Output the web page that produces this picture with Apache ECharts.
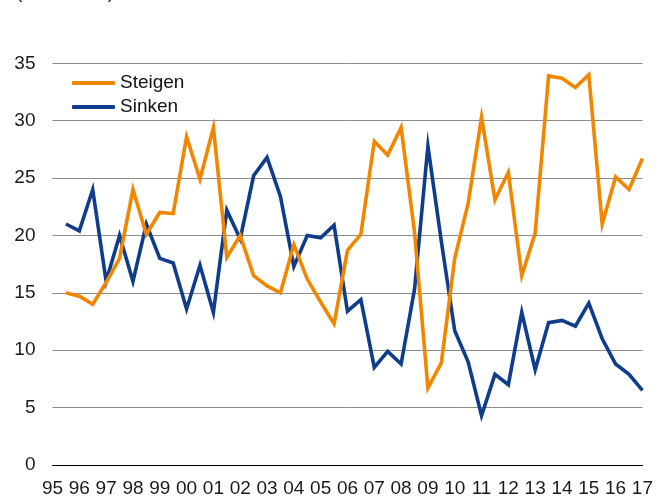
<!DOCTYPE html>
<html>
<head>
<meta charset="utf-8">
<script src="https://cdn.jsdelivr.net/npm/echarts@6/dist/echarts.min.js"></script>
<style>
html,body{margin:0;padding:0;background:#fff;}
#c{width:656px;height:499px;}
</style>
</head>
<body>
<div id="c"></div>
<script>
var yearLabels = ['95','96','97','98','99','00','01','02','03','04','05','06','07','08','09','10','11','12','13','14','15','16','17'];
var steigen = [15.0,14.7,14.0,15.9,18.0,24.0,20.1,22.0,21.9,28.6,24.9,29.4,18.1,20.0,16.5,15.6,15.0,19.2,16.2,14.2,12.3,18.7,20.1,28.2,27.0,29.4,20.3,6.7,8.9,18.0,22.8,30.3,23.1,25.5,16.5,20.2,33.9,33.7,32.9,34.0,21.0,25.1,24.0,26.7];
var sinken = [21.0,20.4,24.0,16.0,20.0,16.0,21.0,18.0,17.6,13.6,17.4,13.3,22.2,19.7,25.2,26.8,23.4,17.3,20.0,19.8,20.9,13.4,14.4,8.5,9.9,8.8,15.3,27.8,19.5,11.7,9.0,4.3,7.9,7.0,13.3,8.3,12.4,12.6,12.1,14.1,11.0,8.8,7.9,6.5];

function pairs(arr){ return arr.map(function(v,i){ return [i+1, v]; }); }

var chart = echarts.init(document.getElementById('c'), null, {renderer:'canvas'});
var font = '"Liberation Sans", Arial, sans-serif';
chart.setOption({
  animation:false,
  backgroundColor:'#ffffff',
  title:{
    text:'(in Prozent)',
    left:11, top:-22,
    textStyle:{fontFamily:font, fontSize:19, fontWeight:'normal', color:'#1a1a1a'}
  },
  grid:{left:52.5, right:13, top:63.3, bottom:34, containLabel:false},
  legend:{
    orient:'vertical',
    left:67, top:67,
    itemWidth:43, itemHeight:4,
    itemGap:2,
    icon:'roundRect',
    textStyle:{fontFamily:font, fontSize:19, color:'#111', lineHeight:22},
    data:['Steigen','Sinken']
  },
  xAxis:{
    type:'value', min:0, max:44, interval:2,
    axisLine:{show:true, lineStyle:{color:'#000', width:1.2}},
    axisTick:{show:false},
    splitLine:{show:false},
    axisLabel:{
      fontFamily:font, fontSize:19, color:'#1a1a1a', margin:14,
      showMinLabel:true, showMaxLabel:true,
      formatter:function(v){ return yearLabels[Math.round(v/2)]; }
    }
  },
  yAxis:{
    type:'value', min:0, max:35, interval:5,
    axisLine:{show:false},
    axisTick:{show:false},
    splitLine:{show:true, lineStyle:{color:'#8c8c8c', width:1}},
    axisLabel:{fontFamily:font, fontSize:19, color:'#1a1a1a', margin:17}
  },
  series:[
    {name:'Steigen', type:'line', data:pairs(steigen), showSymbol:false, symbol:'none',
     lineStyle:{color:'#F18700', width:3.6, join:'miter'}, itemStyle:{color:'#F18700'}, z:3},
    {name:'Sinken', type:'line', data:pairs(sinken), showSymbol:false, symbol:'none',
     lineStyle:{color:'#0F3D8C', width:3.6, join:'miter'}, itemStyle:{color:'#0F3D8C'}, z:2}
  ]
});
</script>
</body>
</html>
